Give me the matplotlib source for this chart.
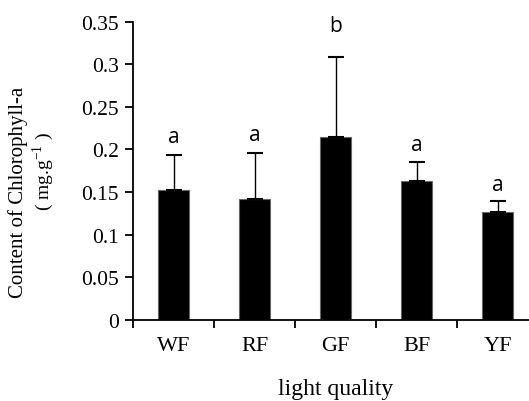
import numpy as np
import matplotlib
matplotlib.use("Agg")
from matplotlib import pyplot as plt

# Data
categories = ["WF", "RF", "GF", "BF", "YF"]
means = [0.152, 0.142, 0.215, 0.163, 0.126]
errors = [0.042, 0.054, 0.093, 0.022, 0.014]
letters = ["a", "a", "b", "a", "a"]
letter_gap = [0.009, 0.009, 0.025, 0.008, 0.006]

serif = ["Liberation Serif", "DejaVu Serif"]
plt.rcParams["mathtext.fontset"] = "custom"
plt.rcParams["mathtext.rm"] = "Liberation Serif"

fig = plt.figure(figsize=(5.29, 4.02), dpi=100)
ax = fig.add_axes([0.2514, 0.2022, 0.766, 0.7413])

x = np.arange(len(categories))
ax.bar(x, means, width=0.39, color="black", edgecolor="#666666", linewidth=0.8)
ax.errorbar(x, means, yerr=[np.zeros(len(errors)), errors], fmt="none",
            ecolor="black", elinewidth=1.0, capsize=5.5, capthick=1.5)

for xi, m, e, l, g in zip(x, means, errors, letters, letter_gap):
    ax.text(xi, m + e + g, l, ha="center", va="bottom",
            fontsize=15, family=["Open Sans", "DejaVu Sans"])

ax.set_xlim(-0.5, 4.5)
ax.set_ylim(0, 0.35)
ax.set_yticks(np.arange(0, 0.351, 0.05))
ax.set_yticklabels(["0", "0.05", "0.1", "0.15", "0.2", "0.25", "0.3", "0.35"],
                   family=serif, fontsize=15.5)
ax.set_xticks(x)
ax.set_xticklabels(categories, family=serif, fontsize=16)
ax.set_xticks(np.arange(-0.5, 4.6, 1.0), minor=True)
ax.tick_params(axis="x", which="major", length=0, pad=12)
ax.tick_params(axis="x", which="minor", length=6, width=1.3, direction="out")
ax.tick_params(axis="y", length=6, width=1.3, direction="out", pad=4)

for s in ["top", "right"]:
    ax.spines[s].set_visible(False)
for s in ["left", "bottom"]:
    ax.spines[s].set_linewidth(1.3)

ax.set_xlabel("light quality", family=serif, fontsize=17, labelpad=16)
fig.text(0.034, 0.522, "Content of Chlorophyll-a", rotation=90, ha="center",
         va="center", family=serif, fontsize=15)
fig.text(0.081, 0.572, "( mg.g$^{-1}$ )", rotation=90, ha="center",
         va="center", family=serif, fontsize=14)

fig.savefig("out.png", dpi=100)
